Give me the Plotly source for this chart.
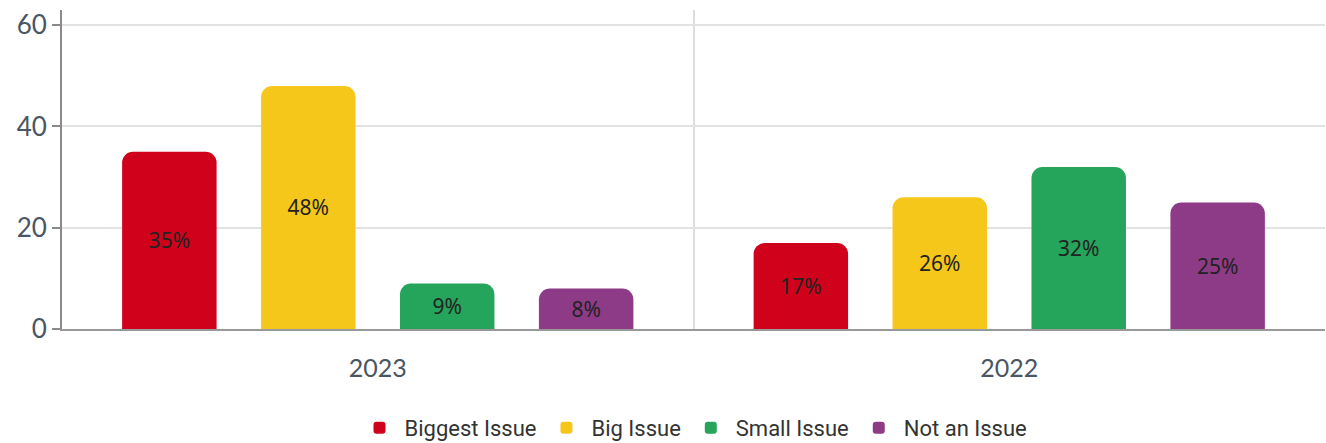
import plotly.graph_objects as go

years = ['2023', '2022']
series = ['Biggest Issue', 'Big Issue', 'Small Issue', 'Not an Issue']
biggest_issue = [35, 17]
big_issue = [48, 26]
small_issue = [9, 32]
not_an_issue = [8, 25]

values = [biggest_issue, big_issue, small_issue, not_an_issue]
colors = ['#D0021B', '#F6C71B', '#25A45B', '#8E3B87']

fig = go.Figure()
for name, vals, col in zip(series, values, colors):
    fig.add_trace(go.Bar(
        x=years, y=vals, name=name,
        marker=dict(color=col, line=dict(width=0)),
        text=[f'{v}%' for v in vals],
        textposition='inside', insidetextanchor='middle',
        textfont=dict(family='Noto Sans', size=21, color='#222222'),
        textangle=0,
    ))

fig.update_layout(
    width=1326, height=443,
    barmode='group', bargap=0.12, bargroupgap=0.32,
    barcornerradius=11,
    plot_bgcolor='white', paper_bgcolor='white',
    margin=dict(l=62, r=1, t=10, b=114, autoexpand=False),
    legend=dict(orientation='h', x=0.5, xanchor='center',
                y=-0.31, yanchor='middle',
                font=dict(family='Roboto', size=22, color='#333333'),
                itemwidth=40),
)
fig.update_yaxes(
    range=[0, 63], tickvals=[0, 20, 40, 60],
    showline=True, linecolor='#8a8a8a', linewidth=2,
    ticks='outside', ticklen=8, tickcolor='#8a8a8a', tickwidth=2,
    showgrid=True, gridcolor='#e2e2e2', gridwidth=1.5,
    zeroline=False, automargin=False,
    tickfont=dict(family='Lato', size=26, color='#4a5663'),
)
fig.update_xaxes(
    showline=True, linecolor='#999999', linewidth=2,
    tickson='boundaries', ticks='', showgrid=True,
    gridcolor='#dddddd', gridwidth=1.5,
    ticklabelstandoff=16, automargin=False,
    tickfont=dict(family='Lato', size=25, color='#4a5663'),
)

# page body has a default 8px margin; drop it so the figure sits at 0,0
fig.write_html('out.html', config={'displayModeBar': False},
               post_script="document.body.style.margin='0';")
